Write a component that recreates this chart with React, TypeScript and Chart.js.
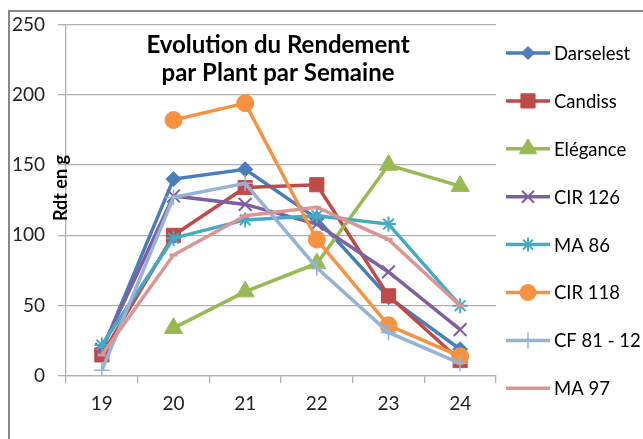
import React, { useEffect, useRef } from 'react';
import { Chart, registerables } from 'chart.js';
import { drawPoint } from 'chart.js/helpers';

Chart.register(...registerables);

// ---- data ----
const weeks = ['19', '20', '21', '22', '23', '24'];
const seriesNames = ['Darselest', 'Candiss', 'Elégance', 'CIR 126', 'MA 86', 'CIR 118', 'CF 81 - 12', 'MA 97'];
const darselest = [18, 140, 147, 112, 56, 19];
const candiss = [15, 100, 134, 136, 57, 11];
const elegance = [null, 34, 60, 80, 150, 135];
const cir126 = [19, 128, 122, 108, 74, 33];
const ma86 = [22, 98, 111, 114, 108, 50];
const cir118 = [null, 182, 194, 97, 36, 14];
const cf8112 = [4, 127, 137, 77, 31, 9];
const ma97 = [15, 86, 114, 120, 97, 50];
const yTicks = [0, 50, 100, 150, 200, 250];
const chartTitle = ['Evolution du Rendement', 'par Plant par Semaine'];
const yTitle = 'Rdt en g';

const seriesValues = [darselest, candiss, elegance, cir126, ma86, cir118, cf8112, ma97];

// ---- styles ----
const colors = ['#4A7EBB', '#BE4B48', '#98B954', '#7D60A0', '#46AAC5', '#F69240', '#95B3D7', '#D99694'];
const pointStyles: any[] = ['rectRot', 'rect', 'triangle', 'crossRot', 'star', 'circle', 'cross', 'line'];
const pointRadii = [7.5, 10, 10.5, 9, 7.5, 8.5, 8, 4];
const pointBorderWidths = [1, 1, 1, 2, 2, 1, 1.5, 3];
const legendRadii = [6.5, 10, 10, 8.5, 7, 8, 8, 0];
const FONT = 'Lato, "Open Sans", sans-serif';

const decorPlugin = {
  id: 'decor',
  beforeDraw(chart: any) {
    const ctx = chart.ctx;
    ctx.save();
    ctx.fillStyle = '#ffffff';
    ctx.fillRect(0, 0, chart.width, chart.height);
    ctx.strokeStyle = '#888888';
    ctx.lineWidth = 2;
    ctx.beginPath();
    ctx.moveTo(9, chart.height);
    ctx.lineTo(9, 11);
    ctx.lineTo(chart.width, 11);
    ctx.stroke();
    ctx.restore();
  },
  afterDraw(chart: any) {
    const ctx = chart.ctx;
    const area = chart.chartArea;
    ctx.save();
    // title
    ctx.fillStyle = '#000000';
    ctx.font = 'bold 24px ' + FONT;
    ctx.textAlign = 'center';
    ctx.textBaseline = 'middle';
    const cx = (area.left + area.right) / 2 - 3;
    chartTitle.forEach((t, i) => ctx.fillText(t, cx, area.top + 21 + i * 28));
    // y title
    ctx.save();
    ctx.translate(area.left - 4.5, 188);
    ctx.rotate(-Math.PI / 2);
    ctx.font = 'bold 18px ' + FONT;
    ctx.fillText(yTitle, 0, 0);
    ctx.restore();
    // legend
    chart.data.datasets.forEach((ds: any, i: number) => {
      const y = 53 + i * 47.9;
      const x0 = area.right + 10;
      ctx.strokeStyle = ds.borderColor;
      ctx.lineWidth = 3.5;
      ctx.beginPath();
      ctx.moveTo(x0, y);
      ctx.lineTo(x0 + 44, y);
      ctx.stroke();
      if (legendRadii[i] > 0) {
        ctx.fillStyle = ds.pointBackgroundColor;
        ctx.strokeStyle = ds.pointBorderColor;
        ctx.lineWidth = ds.pointBorderWidth;
        drawPoint(ctx, { pointStyle: ds.pointStyle, radius: legendRadii[i], rotation: 0, borderWidth: ds.pointBorderWidth } as any, x0 + 22, y);
      }
      ctx.fillStyle = '#000000';
      ctx.font = '18.5px ' + FONT;
      ctx.textAlign = 'left';
      ctx.textBaseline = 'middle';
      ctx.fillText(ds.label, x0 + 48, y + 1);
    });
    ctx.restore();
  },
};

export default function App() {
  const ref = useRef<HTMLCanvasElement>(null);
  useEffect(() => {
    document.body.style.margin = '0';
    const canvas = ref.current!;
    const chart = new Chart(canvas, {
      type: 'line',
      data: {
        labels: weeks,
        datasets: seriesNames.map((name, i) => ({
          label: name,
          data: seriesValues[i],
          borderColor: colors[i],
          backgroundColor: colors[i],
          pointBackgroundColor: colors[i],
          pointBorderColor: colors[i],
          pointStyle: pointStyles[i],
          pointRadius: pointRadii[i],
          pointBorderWidth: pointBorderWidths[i],
          borderWidth: 3.5,
          tension: 0,
          spanGaps: false,
          order: seriesNames.length - i,
        })),
      },
      options: {
        responsive: false,
        animation: false,
        devicePixelRatio: 1,
        layout: { padding: { left: 0, top: 24, right: 147, bottom: 0 }, autoPadding: false },
        plugins: {
          legend: { display: false },
          title: { display: false },
          tooltip: { enabled: false },
        },
        scales: {
          x: {
            type: 'category',
            offset: true,
            grid: { display: true, drawOnChartArea: false, offset: true, tickLength: 7, color: '#B0B0B0', lineWidth: 1.3 },
            border: { display: true, color: '#B0B0B0', width: 1.3 },
            ticks: { font: { family: FONT, size: 19 }, color: '#222222', padding: 9 },
            afterFit: (s: any) => { s.height = 63; },
          },
          y: {
            min: 0,
            max: 250,
            afterBuildTicks: (s: any) => { s.ticks = yTicks.map((v) => ({ value: v })); },
            grid: { color: '#B0B0B0', lineWidth: 1.3, tickLength: 8 },
            border: { display: true, color: '#B0B0B0', width: 1.3 },
            ticks: { font: { family: FONT, size: 19 }, color: '#222222', padding: 13 },
            afterFit: (s: any) => { s.width = 66; },
          },
        },
      },
      plugins: [decorPlugin],
    });
    return () => chart.destroy();
  }, []);
  return (
    <div style={{ width: 643, height: 439 }}>
      <canvas ref={ref} width={643} height={439} style={{ display: 'block' }} />
    </div>
  );
}
